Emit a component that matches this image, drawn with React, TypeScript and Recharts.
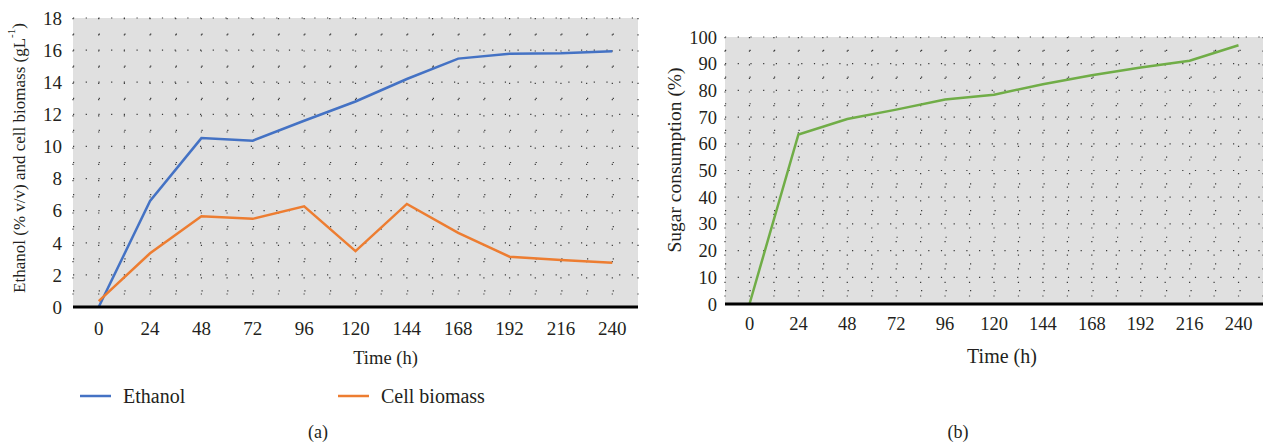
import React from "react";
import { LineChart, Line, XAxis, YAxis, CartesianGrid, Legend, Label } from "recharts";

const hours = ["0", "24", "48", "72", "96", "120", "144", "168", "192", "216", "240"];
const ethanol = [0, 6.6, 10.52, 10.36, 11.6, 12.8, 14.2, 15.47, 15.78, 15.8, 15.93];
const biomass = [0.37, 3.35, 5.65, 5.49, 6.27, 3.48, 6.42, 4.62, 3.13, 2.93, 2.75];
const sugar = [0, 63.5, 69.3, 72.8, 76.6, 78.4, 82.3, 85.7, 88.6, 91.1, 96.9];
const leftTicks = [0, 2, 4, 6, 8, 10, 12, 14, 16, 18];
const rightTicks = [0, 10, 20, 30, 40, 50, 60, 70, 80, 90, 100];
const legendOrder = ["Ethanol", "Cell biomass"];

const dataA = hours.map((h, i) => ({ time: h, ethanol: ethanol[i], biomass: biomass[i] }));
const dataB = hours.map((h, i) => ({ time: h, sugar: sugar[i] }));

const FONT = "'Liberation Serif', 'Times New Roman', serif";
const INK = "#231f20";
const BG = "#e0e0e0";
const DOT = "#3a3a3a";

// dotted grid helpers (half-band verticals, minor/major horizontals)
const halfBands = ({ offset }: any) =>
  Array.from({ length: 23 }, (_, i) => offset.left + (i * offset.width) / 22);
const rows = (n: number, step: number, start: number) => ({ offset }: any) => {
  const out: number[] = [];
  for (let i = start; i <= n; i += step) out.push(offset.top + (i * offset.height) / n);
  return out;
};

function LegendA({ payload }: any) {
  const items = [...(payload || [])].sort(
    (a: any, b: any) => legendOrder.indexOf(a.value) - legendOrder.indexOf(b.value)
  );
  return (
    <div style={{ position: "relative", height: 24, fontFamily: FONT, fontSize: 20, color: INK }}>
      {items.map((p: any, i: number) => (
        <div
          key={p.value}
          style={{ position: "absolute", left: i * 258, top: 0, display: "flex", alignItems: "center", whiteSpace: "nowrap" }}
        >
          <svg width={31} height={24}>
            <line x1={0} x2={31} y1={12} y2={12} stroke={p.color} strokeWidth={2.5} />
          </svg>
          <span style={{ marginLeft: 12, lineHeight: "24px" }}>{p.value}</span>
        </div>
      ))}
    </div>
  );
}

function ChartA() {
  return (
    <LineChart
      width={640}
      height={445}
      data={dataA}
      margin={{ top: 18, right: 2, left: 33, bottom: 54 }}
      style={{ fontFamily: FONT }}
    >
      <CartesianGrid fill={BG} stroke="none" horizontal={false} vertical={false} />
      <CartesianGrid
        vertical={false}
        horizontalCoordinatesGenerator={rows(18, 2, 0)}
        stroke={DOT}
        strokeWidth={1.2}
        strokeDasharray="1.2 11.5"
      />
      <CartesianGrid
        vertical={false}
        horizontalCoordinatesGenerator={rows(18, 2, 1)}
        stroke={DOT}
        strokeWidth={1.2}
        strokeDasharray="1.2 24.5"
      />
      <CartesianGrid
        horizontal={false}
        verticalCoordinatesGenerator={halfBands}
        stroke={DOT}
        strokeWidth={1.2}
        strokeDasharray="1.2 15"
      />
      <XAxis
        dataKey="time"
        height={60}
        padding={{ left: 25.7, right: 25.7 }}
        tickLine={false}
        tickSize={0}
        tickMargin={15}
        axisLine={{ stroke: "#000", strokeWidth: 3 }}
        tick={{ fontFamily: FONT, fontSize: 19, fill: INK }}
      >
        <Label
          value="Time (h)"
          position="insideBottom"
          offset={0}
          dx={30}
          dy={-3}
          fontFamily={FONT}
          fontSize={18.5}
          fill={INK}
        />
      </XAxis>
      <YAxis
        domain={[0, 18]}
        ticks={leftTicks}
        width={40}
        axisLine={false}
        tickLine={false}
        tickSize={0}
        tickMargin={11}
        interval={0}
        tick={{ fontFamily: FONT, fontSize: 19, fill: INK }}
        label={{
          content: () => (
            <text
              x={19}
              y={158}
              transform="rotate(-90 19 158)"
              textAnchor="middle"
              dy="0.35em"
              fontFamily={FONT}
              fontSize={17}
              fill={INK}
            >
              Ethanol (% v/v) and cell biomass (gL
              <tspan fontSize={11} dy="-0.9em">-1</tspan>
              <tspan dy="0.55em">)</tspan>
            </text>
          ),
        }}
      />
      <Legend
        layout="vertical"
        align="center"
        verticalAlign="bottom"
        content={<LegendA />}
        wrapperStyle={{ position: "absolute", left: 80, top: 384, bottom: "auto", width: 500 }}
      />
      <Line
        type="linear"
        dataKey="ethanol"
        name="Ethanol"
        stroke="#4472c4"
        strokeWidth={2.5}
        dot={false}
        isAnimationActive={false}
      />
      <Line
        type="linear"
        dataKey="biomass"
        name="Cell biomass"
        stroke="#ed7d31"
        strokeWidth={2.5}
        dot={false}
        isAnimationActive={false}
      />
    </LineChart>
  );
}

function ChartB() {
  return (
    <LineChart
      width={623}
      height={445}
      data={dataB}
      margin={{ top: 37, right: 0, left: 45, bottom: 81 }}
      style={{ fontFamily: FONT }}
    >
      <CartesianGrid fill={BG} stroke="none" horizontal={false} vertical={false} />
      <CartesianGrid
        vertical={false}
        horizontalCoordinatesGenerator={rows(20, 2, 0)}
        stroke={DOT}
        strokeWidth={1.2}
        strokeDasharray="1.2 11.5"
      />
      <CartesianGrid
        vertical={false}
        horizontalCoordinatesGenerator={rows(20, 2, 1)}
        stroke={DOT}
        strokeWidth={1.2}
        strokeDasharray="1.2 23.3"
      />
      <CartesianGrid
        horizontal={false}
        verticalCoordinatesGenerator={halfBands}
        stroke={DOT}
        strokeWidth={1.2}
        strokeDasharray="1.2 12.4"
      />
      <XAxis
        dataKey="time"
        height={60}
        padding={{ left: 24.5, right: 24.5 }}
        tickLine={false}
        tickSize={0}
        tickMargin={13}
        axisLine={{ stroke: "#000", strokeWidth: 3 }}
        tick={{ fontFamily: FONT, fontSize: 18.5, fill: INK }}
      >
        <Label
          value="Time (h)"
          position="insideBottom"
          offset={0}
          dx={8}
          dy={-1}
          fontFamily={FONT}
          fontSize={20}
          fill={INK}
        />
      </XAxis>
      <YAxis
        domain={[0, 100]}
        ticks={rightTicks}
        width={40}
        axisLine={false}
        tickLine={false}
        tickSize={0}
        tickMargin={8}
        interval={0}
        tick={{ fontFamily: FONT, fontSize: 18.5, fill: INK }}
        label={{
          content: () => (
            <text
              x={34}
              y={160}
              transform="rotate(-90 34 160)"
              textAnchor="middle"
              dy="0.35em"
              fontFamily={FONT}
              fontSize={19.5}
              fill={INK}
            >
              Sugar consumption (%)
            </text>
          ),
        }}
      />
      <Line
        type="linear"
        dataKey="sugar"
        name="Sugar consumption"
        stroke="#70ad47"
        strokeWidth={2.5}
        dot={false}
        isAnimationActive={false}
      />
    </LineChart>
  );
}

export default function App() {
  const caption: React.CSSProperties = {
    position: "absolute",
    top: 422,
    width: 60,
    textAlign: "center",
    fontFamily: FONT,
    fontSize: 18,
    lineHeight: "20px",
    color: INK,
  };
  return (
    <div style={{ position: "absolute", left: 0, top: 0, width: 1263, height: 445, background: "#fff", overflow: "hidden" }}>
      <div style={{ position: "absolute", left: 0, top: 0 }}>
        <ChartA />
      </div>
      <div style={{ position: "absolute", left: 640, top: 0 }}>
        <ChartB />
      </div>
      <div style={{ ...caption, left: 288 }}>(a)</div>
      <div style={{ ...caption, left: 928 }}>(b)</div>
    </div>
  );
}
